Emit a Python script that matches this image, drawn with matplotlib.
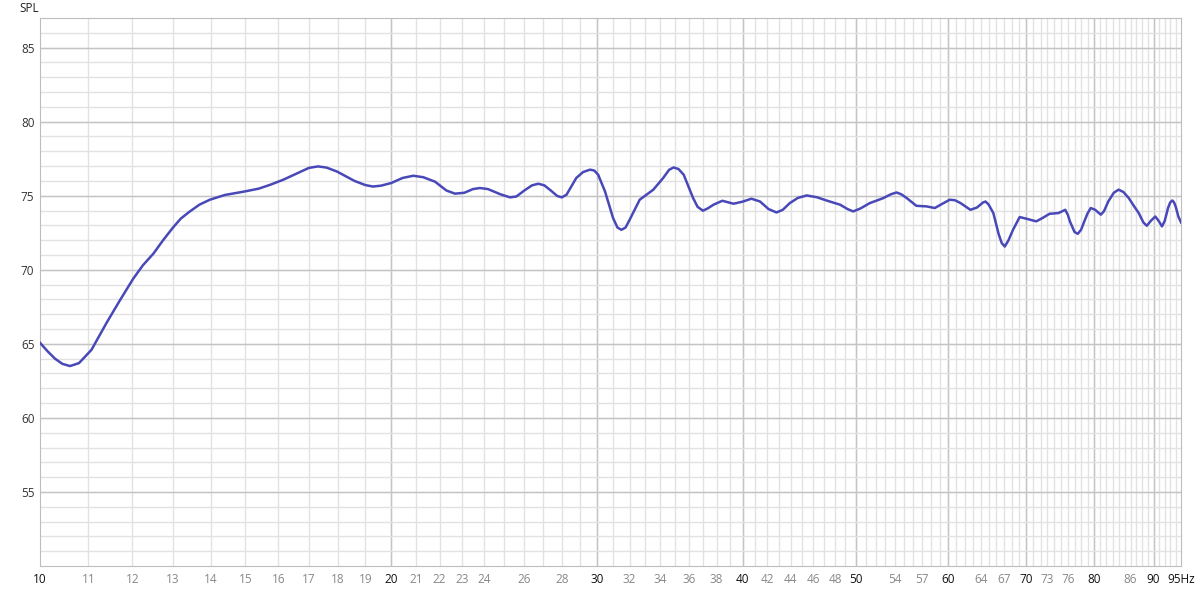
import numpy as np
import matplotlib.pyplot as plt

# frequency response
freq = [10.0, 10.15, 10.3, 10.45, 10.61, 10.8, 11.07, 11.4, 11.7, 12.02,
        12.25, 12.51, 12.75, 13.0, 13.2, 13.44, 13.7, 13.98, 14.4, 14.98,
        15.4, 15.75, 16.16, 16.7, 17.0, 17.31, 17.6, 17.96, 18.3, 18.6,
        19.0, 19.29, 19.6, 20.0, 20.45, 20.89, 21.3, 21.8, 22.3, 22.68,
        23.1, 23.5, 23.82, 24.2, 24.8, 25.28, 25.6, 26.0, 26.4, 26.73,
        27.05, 27.4, 27.75, 28.0, 28.26, 28.81, 29.2, 29.6, 29.85, 30.08,
        30.49, 30.98, 31.25, 31.49, 31.75, 32.01, 32.65, 33.54, 34.2, 34.6,
        34.91, 35.25, 35.61, 36.28, 36.6, 36.99, 37.35, 37.76, 38.43, 39.29,
        40.0, 40.7, 41.4, 42.1, 42.77, 43.3, 43.9, 44.6, 45.39, 46.3,
        47.2, 48.5, 49.2, 49.76, 50.5, 51.4, 52.8, 53.6, 54.19, 54.7,
        55.3, 56.36, 57.5, 58.45, 59.3, 60.2, 60.8, 61.5, 62.7, 63.5,
        64.3, 64.6, 65.0, 65.6, 66.3, 66.7, 67.1, 67.6, 68.2, 69.1,
        70.0, 71.4, 72.3, 73.3, 74.6, 75.6, 76.0, 76.3, 77.0, 77.5,
        78.0, 78.5, 79.0, 79.5, 80.2, 81.1, 81.6, 82.3, 83.2, 84.0,
        84.8, 85.7, 86.5, 87.4, 88.2, 88.8, 89.5, 90.3, 90.9, 91.5,
        92.0, 92.6, 93.0, 93.4, 93.7, 94.0, 94.5, 95.0]
spl = [65.07, 64.5, 64.0, 63.65, 63.5, 63.7, 64.6, 66.4, 67.9, 69.4,
       70.3, 71.1, 72.0, 72.85, 73.45, 73.94, 74.4, 74.73, 75.05, 75.29,
       75.48, 75.74, 76.08, 76.6, 76.88, 76.98, 76.9, 76.64, 76.3, 76.0,
       75.72, 75.62, 75.68, 75.86, 76.2, 76.35, 76.25, 75.95, 75.35, 75.14,
       75.2, 75.45, 75.52, 75.45, 75.1, 74.89, 74.95, 75.35, 75.7, 75.81,
       75.7, 75.35, 74.98, 74.89, 75.07, 76.2, 76.6, 76.76, 76.7, 76.42,
       75.29, 73.49, 72.85, 72.70, 72.85, 73.38, 74.73, 75.41, 76.2, 76.75,
       76.91, 76.8, 76.42, 74.84, 74.25, 73.99, 74.15, 74.39, 74.66, 74.46,
       74.6, 74.80, 74.61, 74.1, 73.87, 74.05, 74.5, 74.85, 75.02, 74.9,
       74.68, 74.39, 74.1, 73.94, 74.15, 74.5, 74.84, 75.1, 75.22, 75.1,
       74.84, 74.32, 74.28, 74.17, 74.45, 74.73, 74.7, 74.5, 74.05, 74.2,
       74.55, 74.61, 74.4, 73.83, 72.4, 71.8, 71.57, 72.0, 72.70, 73.56,
       73.45, 73.27, 73.5, 73.78, 73.83, 74.05, 73.7, 73.27, 72.55, 72.43,
       72.7, 73.27, 73.8, 74.17, 74.05, 73.72, 73.95, 74.61, 75.2, 75.41,
       75.25, 74.84, 74.35, 73.83, 73.2, 72.97, 73.3, 73.6, 73.3, 72.93,
       73.3, 74.17, 74.55, 74.68, 74.55, 74.28, 73.6, 73.2]

xticks = [10, 11, 12, 13, 14, 15, 16, 17, 18, 19, 20, 21, 22, 23, 24, 26, 28,
          30, 32, 34, 36, 38, 40, 42, 44, 46, 48, 50, 54, 57, 60, 64, 67, 70,
          73, 76, 80, 86, 90, 95]
xlabels = [str(t) for t in xticks[:-1]] + ['95Hz']
major_x = [10, 20, 30, 40, 50, 60, 70, 80, 90, 95]
yticks = [55, 60, 65, 70, 75, 80, 85]

fig = plt.figure(figsize=(12, 5.91), dpi=100)
ax = fig.add_axes([40 / 1200, 1 - 566 / 591, 1141 / 1200, 548 / 591])
ax.set_xscale('log')
ax.set_xlim(10, 95)
ax.set_ylim(50, 87)

# grid: every 1 Hz / 1 dB light, decades / 5 dB darker
ax.vlines(np.arange(11, 95), 50, 87, color='#e2e2e2', lw=1, zorder=0)
ax.vlines(np.arange(20, 95, 10), 50, 87, color='#c4c4c4', lw=1, zorder=0)
ax.hlines(np.arange(51, 87), 10, 95, color='#e2e2e2', lw=1, zorder=0)
ax.hlines(yticks, 10, 95, color='#c4c4c4', lw=1, zorder=0)

ax.plot(freq, spl, color='#4848b8', lw=1.8, zorder=3,
        solid_joinstyle='round')

ax.set_xticks(xticks)
ax.set_xticklabels(xlabels)
ax.xaxis.set_minor_locator(plt.NullLocator())
ax.set_yticks(yticks)
ax.tick_params(length=0, labelsize=8.5, colors='#333333')
ax.tick_params(axis='x', pad=5)
ax.tick_params(axis='y', pad=4)
for t, lab in zip(xticks, ax.get_xticklabels()):
    lab.set_color('#111111' if t in major_x else '#888888')
for lab in ax.get_xticklabels() + ax.get_yticklabels():
    lab.set_fontfamily('Open Sans')

for s in ax.spines.values():
    s.set_color('#bdbdbd')

fig.text(19 / 1200, 1 - 8 / 591, 'SPL', fontsize=8.5, family='Open Sans',
         color='#222222', ha='left', va='center')

fig.savefig('out.png', dpi=100)
